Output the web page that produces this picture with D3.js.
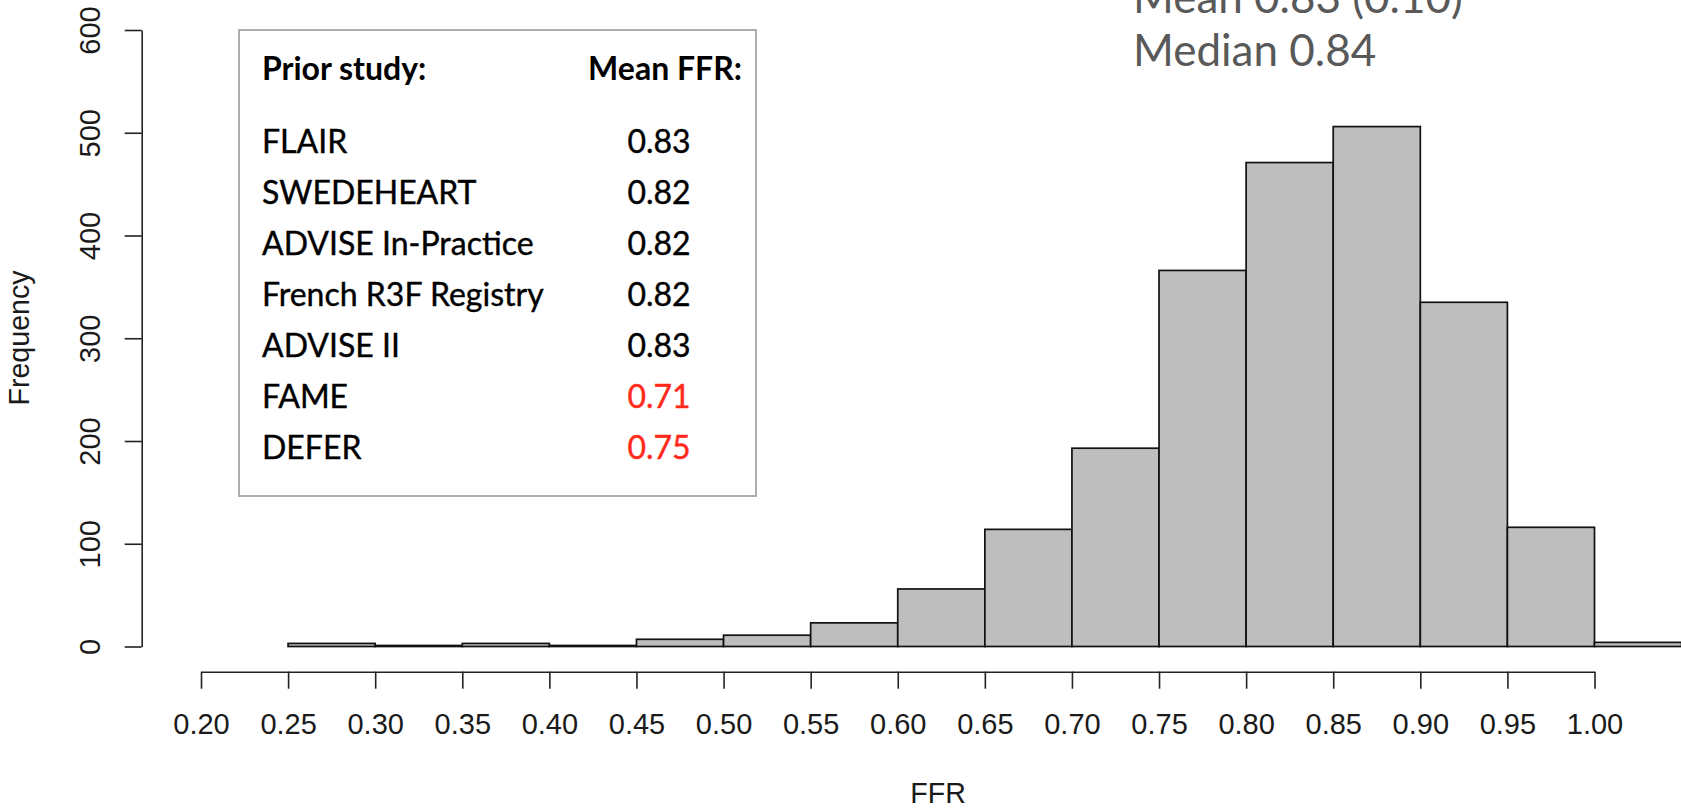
<!DOCTYPE html>
<html>
<head>
<meta charset="utf-8">
<script src="https://cdn.jsdelivr.net/npm/d3@7"></script>
<style>
  body { margin: 0; background: #fff; }
  svg { display: block; }
</style>
</head>
<body>
<div class="canvas"></div>
<script>
// histogram bins (left edge) and counts
var binStarts = [0.25, 0.30, 0.35, 0.40, 0.45, 0.50, 0.55, 0.60, 0.65, 0.70, 0.75, 0.80, 0.85, 0.90, 0.95, 1.00];
var counts    = [3, 1, 3, 1, 7, 11, 23, 56, 114, 193, 366, 471, 506, 335, 116, 4];
var binWidth = 0.05;

var xTicks = [0.20, 0.25, 0.30, 0.35, 0.40, 0.45, 0.50, 0.55, 0.60, 0.65, 0.70, 0.75, 0.80, 0.85, 0.90, 0.95, 1.00];
var yTicks = [0, 100, 200, 300, 400, 500, 600];

var studies    = ["FLAIR", "SWEDEHEART", "ADVISE In-Practice", "French R3F Registry", "ADVISE II", "FAME", "DEFER"];
var studyMeans = ["0.83", "0.82", "0.82", "0.82", "0.83", "0.71", "0.75"];
var studyFlag  = [false, false, false, false, false, true, true];

var summaryLines = ["Mean 0.83 (0.10)", "Median 0.84"];

var svg;

function init() {
    var width = 1681,
        height = 808;
    svg = d3.select(".canvas").append("svg")
            .attr("width", width)
            .attr("height", height);

    var x = d3.scaleLinear().domain([0.20, 1.00]).range([201, 1594.5]);
    var y = d3.scaleLinear().domain([0, 600]).range([646.5, 30]);

    // bars
    binStarts.forEach(function (b, i) {
        svg.append("rect")
           .attr("class", "bar")
           .attr("x", x(b))
           .attr("y", y(counts[i]))
           .attr("width", x(b + binWidth) - x(b))
           .attr("height", y(0) - y(counts[i]))
           .style("fill", "#bebebe")
           .style("stroke", "#111")
           .style("stroke-width", 1.7);
    });

    // x axis, R style
    var xAxis = svg.append("g")
        .attr("transform", "translate(0,671.7)")
        .call(d3.axisBottom(x).tickValues(xTicks).tickSize(17).tickSizeOuter(0)
              .tickFormat(d3.format(".2f")));
    xAxis.select(".domain").attr("stroke", "#222").attr("stroke-width", 1.6);
    xAxis.selectAll(".tick line").attr("stroke", "#222").attr("stroke-width", 1.6);
    xAxis.selectAll(".tick text")
         .attr("y", 62.3).attr("dy", 0)
         .style("font-family", "'Liberation Sans', Arial, sans-serif")
         .style("font-size", "29px")
         .style("fill", "#1a1a1a");

    // y axis, R style with rotated labels
    var yAxis = svg.append("g")
        .attr("transform", "translate(141.7,0)")
        .call(d3.axisLeft(y).tickValues(yTicks).tickSize(17).tickSizeOuter(0));
    yAxis.select(".domain").attr("stroke", "#222").attr("stroke-width", 1.6);
    yAxis.selectAll(".tick line").attr("stroke", "#222").attr("stroke-width", 1.6);
    yAxis.selectAll(".tick text")
         .attr("x", 0).attr("dy", 0)
         .attr("transform", "translate(-41.7,0) rotate(-90)")
         .attr("text-anchor", "middle")
         .style("font-family", "'Liberation Sans', Arial, sans-serif")
         .style("font-size", "29px")
         .style("fill", "#1a1a1a");

    // axis titles
    svg.append("text")
       .attr("transform", "translate(29,338) rotate(-90)")
       .attr("text-anchor", "middle")
       .style("font-family", "'Liberation Sans', Arial, sans-serif")
       .style("font-size", "28.6px")
       .style("fill", "#1a1a1a")
       .text("Frequency");
    svg.append("text")
       .attr("x", 938).attr("y", 803)
       .attr("text-anchor", "middle")
       .style("font-family", "'Liberation Sans', Arial, sans-serif")
       .style("font-size", "28.6px")
       .style("fill", "#1a1a1a")
       .text("FFR");

    // legend table
    var legend = svg.append("g").attr("class", "legend");
    legend.append("rect")
          .attr("x", 239).attr("y", 30)
          .attr("width", 517).attr("height", 466)
          .style("fill", "#fff")
          .style("stroke", "#a6a6a6")
          .style("stroke-width", 1.8);

    var font = "Lato, 'Open Sans', sans-serif";
    legend.append("text")
          .attr("x", 262).attr("y", 80)
          .style("font-family", font).style("font-weight", "bold")
          .style("font-size", "32px").style("fill", "#000")
          .text("Prior study:");
    legend.append("text")
          .attr("x", 742).attr("y", 80)
          .attr("text-anchor", "end")
          .style("font-family", font).style("font-weight", "bold")
          .style("font-size", "32px").style("fill", "#000")
          .text("Mean FFR:");

    studies.forEach(function (s, i) {
        var by = 153 + i * 51;
        legend.append("text")
              .attr("x", 262).attr("y", by)
              .style("font-family", font)
              .style("font-size", "32px").style("fill", "#000")
              .style("stroke", "#000").style("stroke-width", 0.4)
              .text(s);
        var c = studyFlag[i] ? "#ff2a1a" : "#000";
        legend.append("text")
              .attr("x", 659).attr("y", by)
              .attr("text-anchor", "middle")
              .style("font-family", font)
              .style("font-size", "32px")
              .style("fill", c)
              .style("stroke", c).style("stroke-width", 0.4)
              .text(studyMeans[i]);
    });

    // summary text, top right (first line is cut by the top edge, as in the source)
    summaryLines.forEach(function (t, i) {
        svg.append("text")
           .attr("x", 1133).attr("y", 13 + i * 53)
           .style("font-family", font)
           .style("font-size", "44px")
           .style("fill", "#595959")
           .text(t);
    });
}

init();
</script>
</body>
</html>
